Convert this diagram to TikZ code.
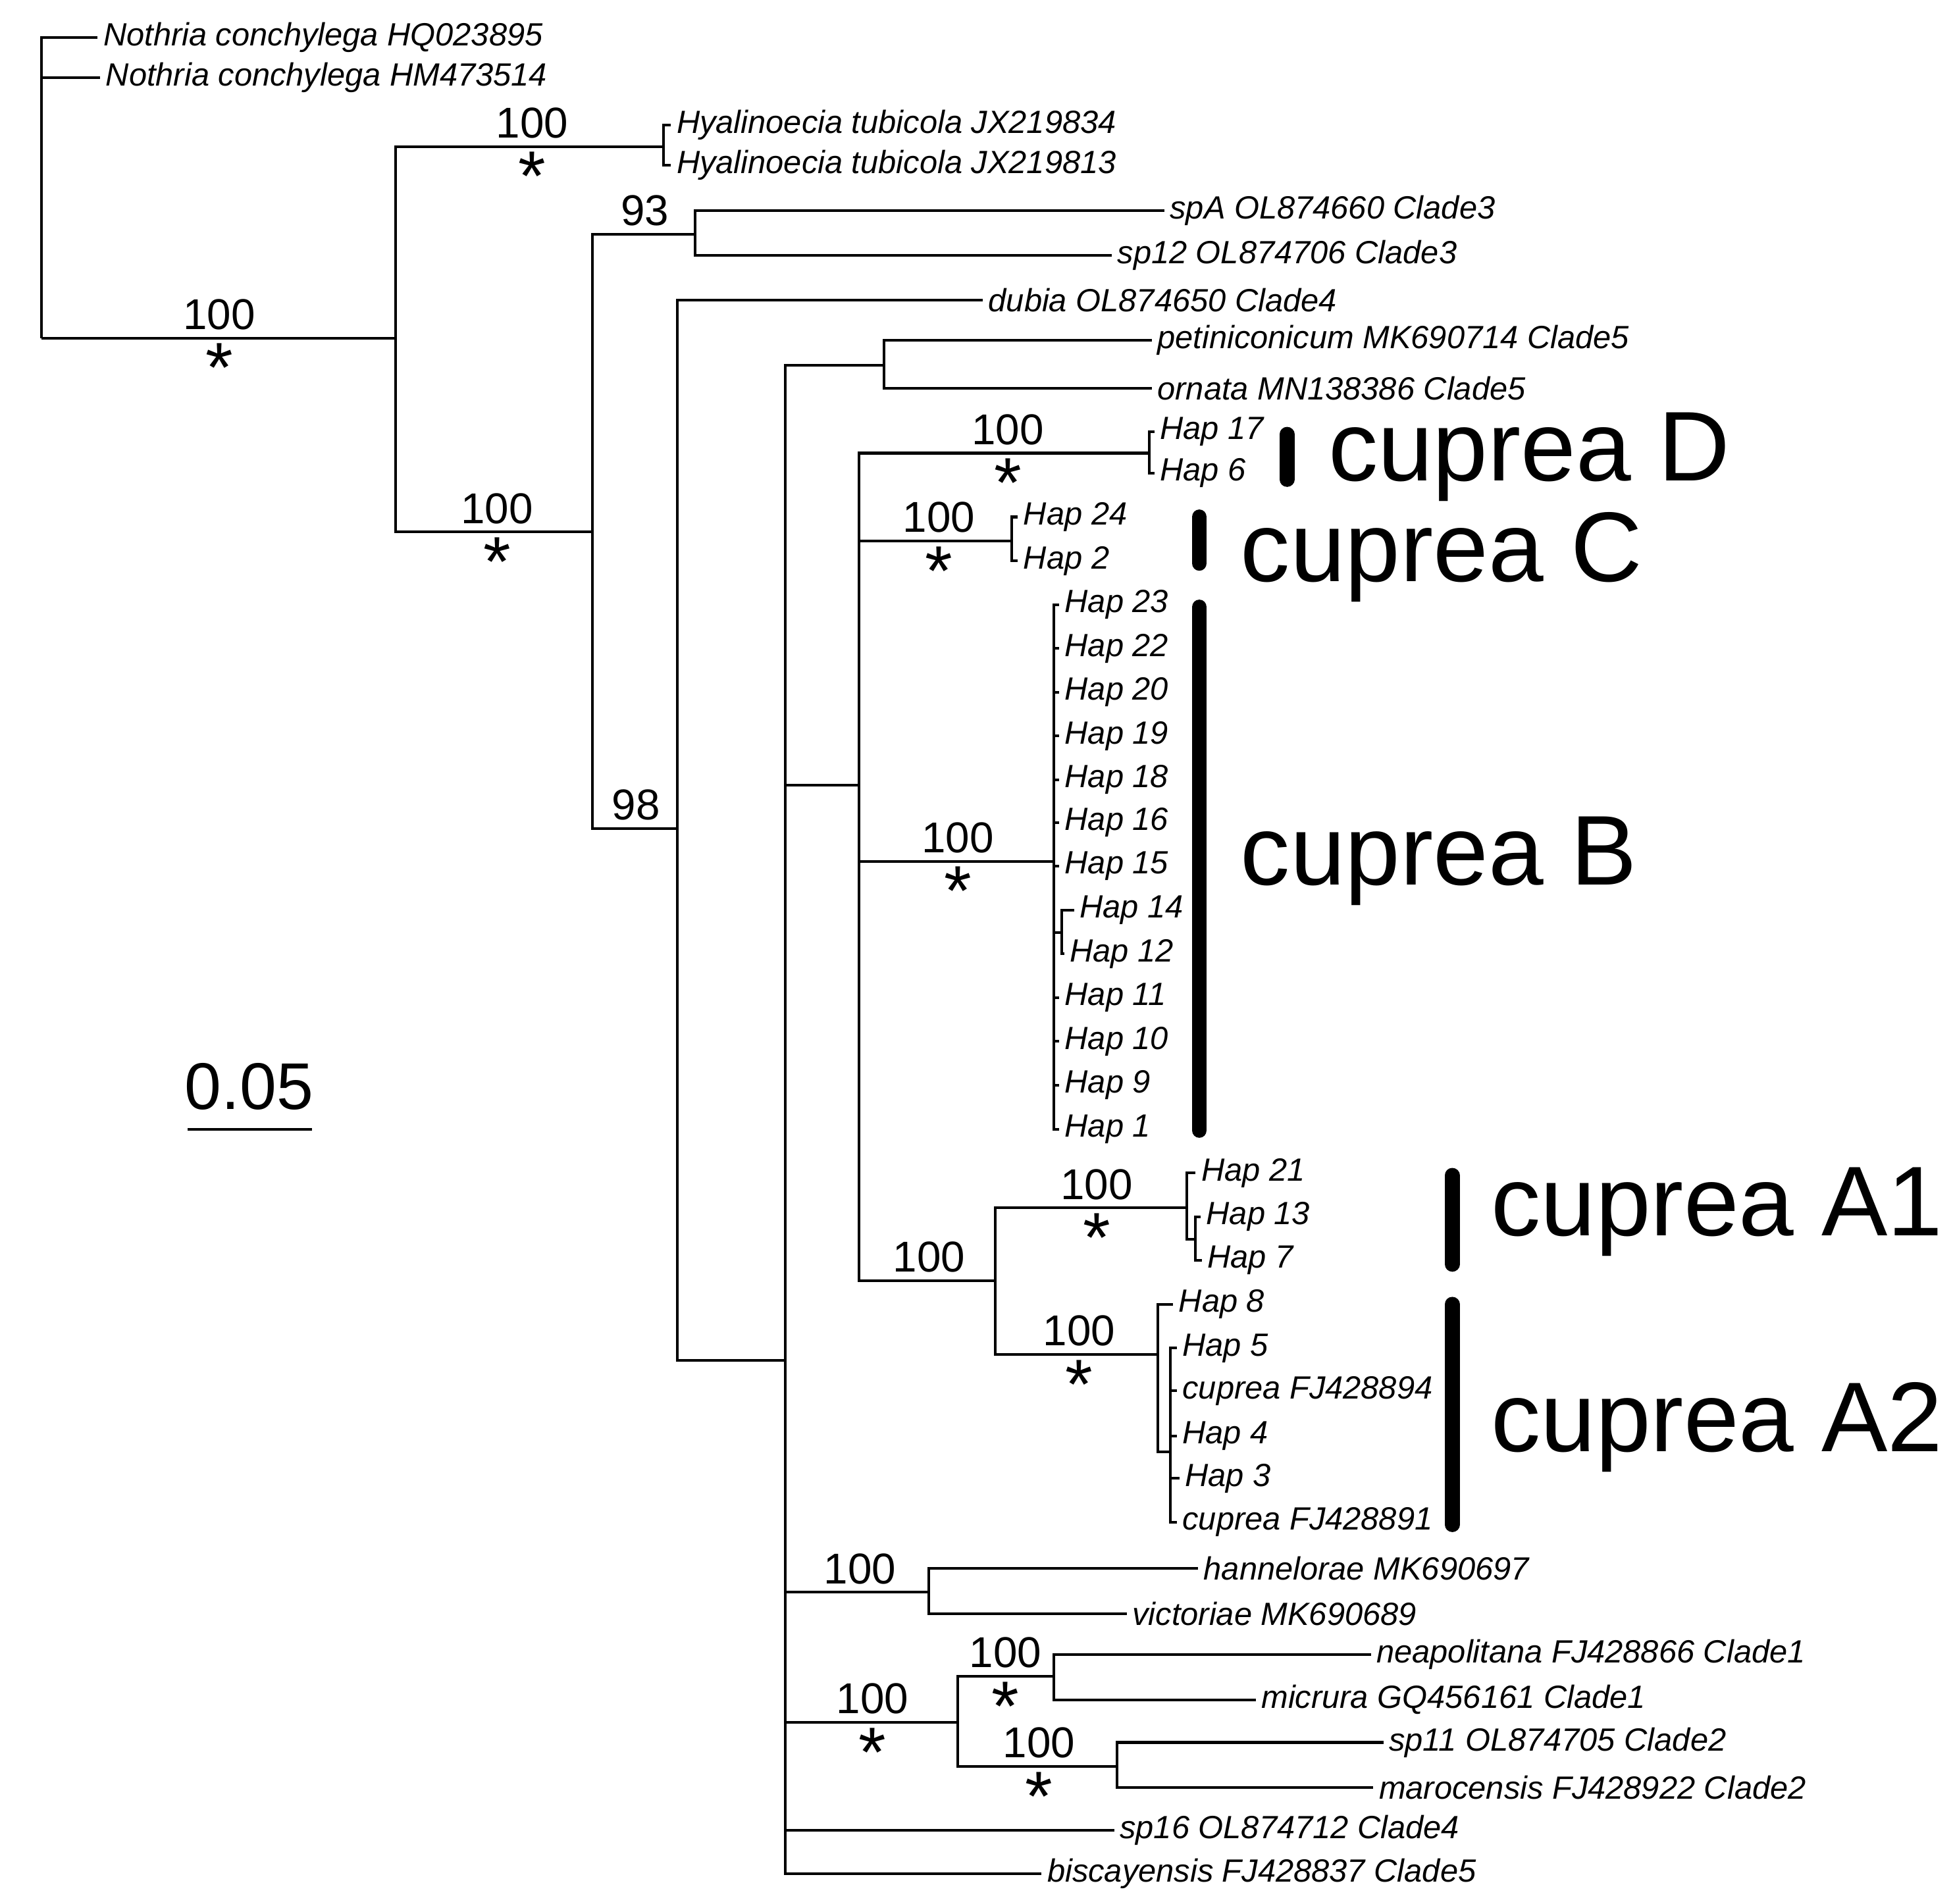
\documentclass[tikz,border=0pt]{standalone}
\usepackage{fontspec}
\setmainfont{Liberation Sans}
\begin{document}
\begin{tikzpicture}[x=0.01cm,y=-0.01cm,line width=0.6pt,
 tip/.style={anchor=west,inner sep=1pt,font=\fontsize{7.3}{8}\selectfont\itshape},
 bs/.style={anchor=south,inner sep=1pt,font=\fontsize{9.8}{10}\selectfont},
 ast/.style={anchor=center,inner sep=0pt,font=\fontsize{16}{16}\selectfont},
 clade/.style={anchor=west,inner sep=0pt,font=\fontsize{22.5}{24}\selectfont},
 bar/.style={line width=3.4pt,line cap=round}]
\useasboundingbox (0,0) rectangle (1560,1521);
% internal nodes
\coordinate (r) at (33,270);
\coordinate (n1) at (316,270);
\coordinate (hy) at (530,117);
\coordinate (n2) at (473,425);
\coordinate (n3) at (555,187);
\coordinate (n4) at (541,662);
\coordinate (n5) at (627,1087);
\coordinate (n6) at (706,292);
\coordinate (n7) at (686,627);
\coordinate (cD) at (918,362);
\coordinate (cC) at (808,432);
\coordinate (cB) at (842,688);
\coordinate (cB2) at (848,745);
\coordinate (cA) at (795,1023);
\coordinate (cA1) at (948,965);
\coordinate (cA1b) at (955,990);
\coordinate (cA2) at (925,1082);
\coordinate (cA2b) at (935,1160);
\coordinate (n8) at (742,1272);
\coordinate (n9) at (765,1376);
\coordinate (n10) at (842,1339);
\coordinate (n11) at (892,1411);
% leaves
\coordinate (l1) at (78,30); \coordinate (l2) at (80,62);
\coordinate (l3) at (536,100); \coordinate (l4) at (536,132);
\coordinate (l5) at (930,168); \coordinate (l6) at (888,204);
\coordinate (l7) at (785,240);
\coordinate (l8) at (920,272); \coordinate (l9) at (920,310);
\coordinate (l10) at (922,345); \coordinate (l11) at (922,378);
\coordinate (l12) at (813,413); \coordinate (l13) at (813,448);
\coordinate (b1) at (846,483); \coordinate (b2) at (846,518); \coordinate (b3) at (846,553);
\coordinate (b4) at (846,588); \coordinate (b5) at (846,623); \coordinate (b6) at (846,657);
\coordinate (b7) at (846,692); \coordinate (b8) at (858,727); \coordinate (b9) at (850,762);
\coordinate (b10) at (846,797); \coordinate (b11) at (846,832); \coordinate (b12) at (846,867);
\coordinate (b13) at (846,902);
\coordinate (a1) at (955,937); \coordinate (a2) at (959,972); \coordinate (a3) at (960,1007);
\coordinate (a4) at (937,1042); \coordinate (a5) at (940,1077); \coordinate (a6) at (940,1111);
\coordinate (a7) at (940,1147); \coordinate (a8) at (942,1181); \coordinate (a9) at (940,1216);
\coordinate (l14) at (957,1253); \coordinate (l15) at (900,1289);
\coordinate (l16) at (1095,1322); \coordinate (l17) at (1003,1358);
\coordinate (l18) at (1105,1392); \coordinate (l19) at (1097,1428);
\coordinate (l20) at (890,1462); \coordinate (l21) at (832,1497);
% branches
\foreach \p/\c in {r/l1,r/l2,r/n1,n1/hy,n1/n2,hy/l3,hy/l4,n2/n3,n2/n4,n3/l5,n3/l6,n4/l7,n4/n5,
 n5/n6,n6/l8,n6/l9,n5/n7,n7/cD,cD/l10,cD/l11,n7/cC,cC/l12,cC/l13,n7/cB,
 cB/b1,cB/b2,cB/b3,cB/b4,cB/b5,cB/b6,cB/b7,cB/cB2,cB2/b8,cB2/b9,cB/b10,cB/b11,cB/b12,cB/b13,
 n7/cA,cA/cA1,cA1/a1,cA1/cA1b,cA1b/a2,cA1b/a3,cA/cA2,cA2/a4,cA2/cA2b,cA2b/a5,cA2b/a6,cA2b/a7,cA2b/a8,cA2b/a9,
 n5/n8,n8/l14,n8/l15,n5/n9,n9/n10,n10/l16,n10/l17,n9/n11,n11/l18,n11/l19,n5/l20,n5/l21}
 \draw (\p) |- (\c);
% tip labels
\node[tip] (t1) at (l1) {Nothria conchylega HQ023895};
\node[tip] (t2) at (l2) {Nothria conchylega HM473514};
\node[tip] (t3) at (l3) {Hyalinoecia tubicola JX219834};
\node[tip] (t4) at (l4) {Hyalinoecia tubicola JX219813};
\node[tip] (t5) at (l5) {spA OL874660 Clade3};
\node[tip] (t6) at (l6) {sp12 OL874706 Clade3};
\node[tip] (t7) at (l7) {dubia OL874650 Clade4};
\node[tip] (t8) at (l8) {petiniconicum MK690714 Clade5};
\node[tip] (t9) at (l9) {ornata MN138386 Clade5};
\node[tip] (t10) at (l10) {Hap 17};
\node[tip] (t11) at (l11) {Hap 6};
\node[tip] (t12) at (l12) {Hap 24};
\node[tip] (t13) at (l13) {Hap 2};
\foreach \c/\t in {b1/23,b2/22,b3/20,b4/19,b5/18,b6/16,b7/15,b8/14,b9/12,b10/11,b11/10,b12/9,b13/1}
 \node[tip] (t\c) at (\c) {Hap \t};
\node[tip] (ta1) at (a1) {Hap 21};
\node[tip] (ta2) at (a2) {Hap 13};
\node[tip] (ta3) at (a3) {Hap 7};
\node[tip] (ta4) at (a4) {Hap 8};
\node[tip] (ta5) at (a5) {Hap 5};
\node[tip] (ta6) at (a6) {cuprea FJ428894};
\node[tip] (ta7) at (a7) {Hap 4};
\node[tip] (ta8) at (a8) {Hap 3};
\node[tip] (ta9) at (a9) {cuprea FJ428891};
\node[tip] (t14) at (l14) {hannelorae MK690697};
\node[tip] (t15) at (l15) {victoriae MK690689};
\node[tip] (t16) at (l16) {neapolitana FJ428866 Clade1};
\node[tip] (t17) at (l17) {micrura GQ456161 Clade1};
\node[tip] (t18) at (l18) {sp11 OL874705 Clade2};
\node[tip] (t19) at (l19) {marocensis FJ428922 Clade2};
\node[tip] (t20) at (l20) {sp16 OL874712 Clade4};
\node[tip] (t21) at (l21) {biscayensis FJ428837 Clade5};
% support values
\foreach \x/\y/\v/\a in {175/270/100/1,425/117/100/1,397/425/100/1,515/187/93/0,508/662/98/0,
 805/362/100/1,750/432/100/1,765/688/100/1,742/1023/100/0,876/965/100/1,862/1082/100/1,
 687/1272/100/0,697/1376/100/1,803/1339/100/1,830/1411/100/1}{
 \node[bs] (s\x) at (\x,\y-2) {\v};
 \ifnum\a=1 \node[ast] (k\x) at (\x,\y+24) {*};\fi}
% clade bars
\foreach \n/\x/\ya/\yb in {D/1028/347/383,C/958/413/450,B/958/485/903,Aa/1160/939/1010,Ab/1160/1042/1218}{
 \coordinate (\n1) at (\x,\ya); \coordinate (\n2) at (\x,\yb); \draw[bar] (\n1) -- (\n2);}
\node[clade] (cd) at (1060,365) {cuprea D};
\node[clade] (cc) at (990,445) {cuprea C};
\node[clade] (cb) at (990,688) {cuprea B};
\node[clade] (ca1) at (1190,968) {cuprea A1};
\node[clade] (ca2) at (1190,1140) {cuprea A2};
% scale bar
\coordinate (sc1) at (150,902); \coordinate (sc2) at (249,902);
\draw (sc1) -- (sc2);
\node[anchor=south,inner sep=0pt,font=\fontsize{15}{16}\selectfont] (sl) at (199,888) {0.05};
\end{tikzpicture}
\end{document}
